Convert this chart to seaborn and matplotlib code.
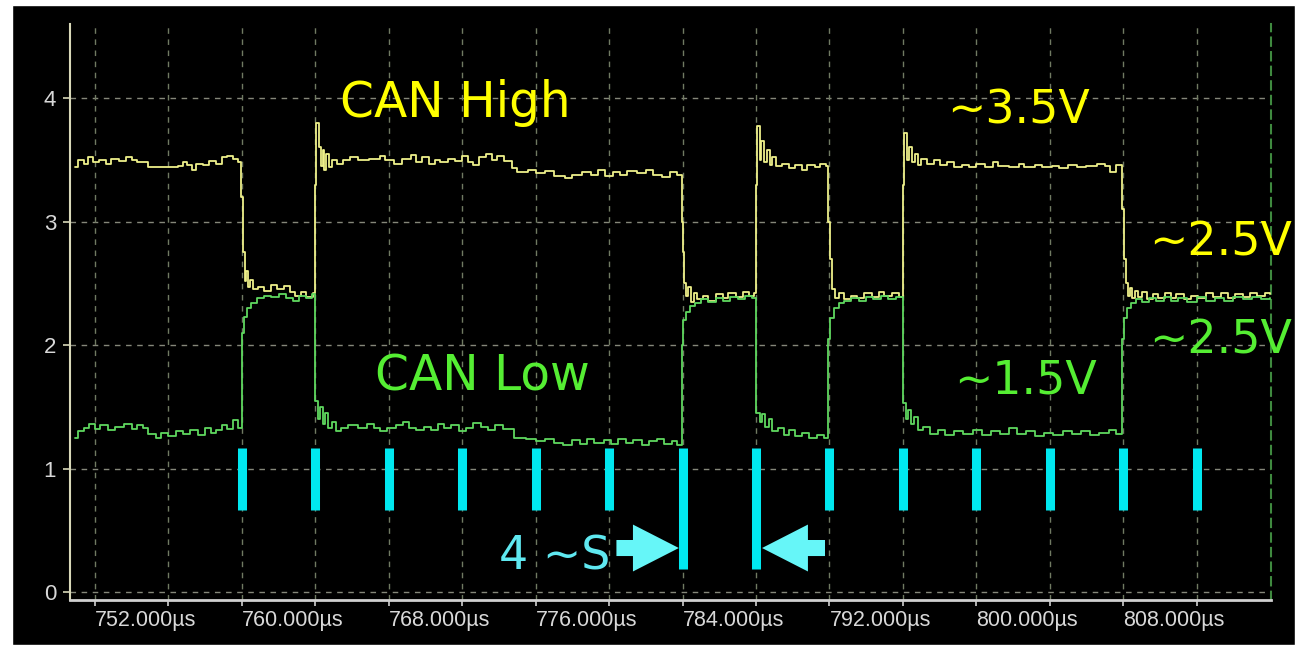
import matplotlib
matplotlib.use("Agg")
import matplotlib.pyplot as plt
from matplotlib.patches import Rectangle
import seaborn as sns

high_t = [750.9, 751.1, 751.4, 751.6, 751.9, 752.2, 752.6, 752.9, 753.3, 753.7, 754.0, 754.3, 754.9,
          756.5, 756.8, 757.0, 757.3, 757.5, 757.9, 758.2, 758.6, 758.9, 759.2, 759.5, 759.8,
          759.95, 760.05, 760.15, 760.25, 760.35, 760.45, 760.6, 760.9, 761.2, 761.6, 761.9, 762.3,
          762.6, 762.9, 763.2, 763.5, 763.9,
          764.0, 764.05, 764.2, 764.3, 764.4, 764.5, 764.6, 764.75, 764.9, 765.2, 765.5, 765.9, 766.3,
          766.9, 767.5, 767.8, 768.3, 768.7, 769.2, 769.5, 769.8, 770.2, 770.5, 770.8, 771.2, 771.6,
          772.0, 772.3, 772.6, 772.9, 773.3, 773.6, 773.9, 774.3, 774.7, 775.0, 775.6, 776.0, 776.5,
          777.0, 777.6, 778.0, 778.5, 779.0, 779.4, 779.8, 780.2, 780.6, 781.0, 781.5, 782.0, 782.4,
          782.9, 783.3, 783.7,
          783.95, 784.0, 784.1, 784.2, 784.3, 784.45, 784.6, 784.8, 785.1, 785.4, 785.8, 786.2, 786.5,
          786.9, 787.3, 787.6, 787.9,
          788.0, 788.05, 788.2, 788.3, 788.45, 788.6, 788.75, 788.9, 789.1, 789.4, 789.8, 790.1, 790.5,
          790.8, 791.2, 791.5, 791.8,
          791.95, 792.05, 792.15, 792.3, 792.5, 792.8, 793.2, 793.5, 793.9, 794.3, 794.7, 795.0, 795.4,
          795.8,
          796.0, 796.05, 796.2, 796.35, 796.5, 796.65, 796.8, 797.0, 797.3, 797.7, 798.0, 798.4, 798.8,
          799.2, 799.6, 800.0, 800.5, 800.9, 801.2, 801.8, 802.3, 802.6, 803.2, 803.6, 804.1, 804.5,
          805.0, 805.5, 806.0, 806.6, 807.0, 807.3, 807.6,
          807.95, 808.05, 808.15, 808.25, 808.35, 808.5, 808.65, 808.8, 809.0, 809.3, 809.6, 809.9,
          810.3, 810.6, 810.9, 811.3, 811.7, 812.1, 812.5, 812.9, 813.3, 813.7, 814.1, 814.5, 814.9,
          815.3, 815.7, 816.0]
high_v = [3.44, 3.50, 3.47, 3.52, 3.48, 3.50, 3.47, 3.51, 3.49, 3.52, 3.50, 3.48, 3.44,
          3.45, 3.48, 3.46, 3.42, 3.47, 3.46, 3.49, 3.47, 3.52, 3.53, 3.51, 3.48,
          3.20, 2.75, 2.52, 2.60, 2.47, 2.53, 2.45, 2.47, 2.44, 2.49, 2.45, 2.48,
          2.43, 2.40, 2.43, 2.39, 2.42,
          3.30, 3.80, 3.60, 3.45, 3.58, 3.42, 3.55, 3.44, 3.50, 3.47, 3.50, 3.52, 3.50,
          3.51, 3.53, 3.50, 3.47, 3.51, 3.54, 3.48, 3.52, 3.47, 3.50, 3.48, 3.51, 3.49,
          3.53, 3.48, 3.46, 3.52, 3.55, 3.50, 3.53, 3.49, 3.43, 3.40, 3.42, 3.39, 3.41,
          3.37, 3.35, 3.38, 3.40, 3.38, 3.42, 3.37, 3.40, 3.38, 3.41, 3.39, 3.42, 3.38,
          3.36, 3.40, 3.38,
          3.00, 2.75, 2.50, 2.40, 2.47, 2.35, 2.42, 2.37, 2.40, 2.36, 2.41, 2.38, 2.42,
          2.39, 2.43, 2.40, 2.42,
          3.30, 3.77, 3.50, 3.65, 3.48, 3.58, 3.46, 3.52, 3.45, 3.47, 3.43, 3.46, 3.42,
          3.46, 3.44, 3.47, 3.45,
          3.00, 2.70, 2.45, 2.38, 2.42, 2.37, 2.40, 2.38, 2.42, 2.39, 2.43, 2.40, 2.42,
          2.39,
          3.30, 3.72, 3.50, 3.60, 3.48, 3.55, 3.46, 3.51, 3.47, 3.50, 3.46, 3.48, 3.44,
          3.46, 3.44, 3.47, 3.44, 3.48, 3.45, 3.44, 3.47, 3.44, 3.46, 3.44, 3.45, 3.43,
          3.46, 3.44, 3.45, 3.47, 3.45, 3.40, 3.46,
          3.10, 2.70, 2.50, 2.40, 2.46, 2.38, 2.44, 2.39, 2.43, 2.37, 2.41, 2.38,
          2.42, 2.38, 2.41, 2.37, 2.40, 2.38, 2.42, 2.39, 2.42, 2.38, 2.41, 2.39, 2.42,
          2.40, 2.42, 2.41]

# CAN Low trace
low_t = [750.9, 751.1, 751.4, 751.7, 752.0, 752.3, 752.7, 753.1, 753.6, 754.0, 754.3, 754.6, 754.9,
         755.3, 755.6, 756.0, 756.4, 756.8, 757.2, 757.6, 758.0, 758.3, 758.6, 758.9, 759.2, 759.5,
         759.8,
         760.0, 760.1, 760.3, 760.5, 760.8, 761.2, 761.6, 762.0, 762.4, 762.8, 763.1, 763.5, 763.8,
         764.0, 764.15, 764.25, 764.4, 764.55, 764.7, 764.9, 765.1, 765.4, 765.8, 766.3, 766.8, 767.2,
         767.5, 767.9, 768.4, 768.8, 769.1, 769.5, 769.9, 770.3, 770.7, 771.0, 771.4, 771.8, 772.2,
         772.6, 773.0, 773.4, 773.8, 774.2, 774.8, 775.5, 776.0, 776.5, 777.0, 777.5, 778.0, 778.4,
         778.8, 779.2, 779.7, 780.1, 780.5, 780.9, 781.3, 781.8, 782.2, 782.6, 783.0, 783.4, 783.7,
         783.95, 784.05, 784.2, 784.4, 784.7, 785.0, 785.4, 785.8, 786.2, 786.6, 787.0, 787.4, 787.8,
         788.0, 788.2, 788.35, 788.5, 788.7, 788.9, 789.2, 789.5, 789.8, 790.1, 790.5, 790.9, 791.3,
         791.7,
         791.95, 792.05, 792.25, 792.5, 792.8, 793.2, 793.6, 794.0, 794.4, 794.8, 795.2, 795.6,
         796.0, 796.15, 796.3, 796.45, 796.6, 796.8, 797.1, 797.5, 797.9, 798.3, 798.8, 799.3, 799.8,
         800.3, 800.8, 801.3, 801.8, 802.2, 802.7, 803.2, 803.7, 804.2, 804.7, 805.2, 805.7, 806.2,
         806.7, 807.2, 807.6,
         807.95, 808.05, 808.2, 808.4, 808.7, 809.0, 809.4, 809.8, 810.2, 810.6, 811.0, 811.5, 812.0,
         812.5, 813.0, 813.5, 814.0, 814.5, 815.0, 815.5, 816.0]
low_v = [1.25, 1.30, 1.33, 1.36, 1.32, 1.35, 1.31, 1.34, 1.36, 1.32, 1.35, 1.33, 1.28,
         1.25, 1.29, 1.26, 1.30, 1.28, 1.31, 1.27, 1.33, 1.29, 1.31, 1.35, 1.32, 1.39,
         1.33,
         2.10, 2.23, 2.30, 2.34, 2.38, 2.40, 2.39, 2.41, 2.38, 2.36, 2.40, 2.38, 2.41,
         1.55, 1.40, 1.50, 1.36, 1.45, 1.33, 1.38, 1.30, 1.33, 1.35, 1.33, 1.36, 1.33,
         1.30, 1.33, 1.35, 1.38, 1.33, 1.31, 1.34, 1.31, 1.36, 1.33, 1.35, 1.30, 1.33,
         1.37, 1.34, 1.31, 1.35, 1.32, 1.25, 1.24, 1.22, 1.24, 1.21, 1.19, 1.23, 1.20,
         1.24, 1.21, 1.23, 1.20, 1.24, 1.21, 1.23, 1.19, 1.22, 1.24, 1.20, 1.22, 1.19,
         2.00, 2.20, 2.27, 2.32, 2.34, 2.37, 2.35, 2.38, 2.36, 2.39, 2.37, 2.40, 2.38,
         1.45, 1.38, 1.44, 1.34, 1.40, 1.30, 1.33, 1.27, 1.31, 1.26, 1.29, 1.25, 1.27,
         1.25,
         2.05, 2.22, 2.30, 2.34, 2.36, 2.38, 2.36, 2.39, 2.37, 2.40, 2.37, 2.39,
         1.53, 1.40, 1.47, 1.36, 1.42, 1.31, 1.34, 1.28, 1.31, 1.27, 1.30, 1.28, 1.31,
         1.27, 1.30, 1.28, 1.33, 1.28, 1.30, 1.26, 1.29, 1.27, 1.30, 1.28, 1.30, 1.27,
         1.29, 1.31, 1.28,
         2.05, 2.22, 2.30, 2.34, 2.37, 2.35, 2.38, 2.36, 2.39, 2.36, 2.38, 2.35, 2.39,
         2.36, 2.38, 2.36, 2.39, 2.37, 2.39, 2.37, 2.38]

# bit boundary markers
bit_times = [760, 764, 768, 772, 776, 780, 784, 788, 792, 796, 800, 804, 808, 812]
bit_bottom = [0.66, 0.66, 0.66, 0.66, 0.66, 0.66, 0.19, 0.19, 0.66, 0.66, 0.66, 0.66, 0.66, 0.66]
bit_top = [1.17] * len(bit_times)

major_ticks = [752, 760, 768, 776, 784, 792, 800, 808]
minor_ticks = [756, 764, 772, 780, 788, 796, 804, 812]
y_ticks = [0, 1, 2, 3, 4]

sns.set_theme(style="dark", rc={"axes.facecolor": "black"})
plt.rcParams['font.family'] = ['DejaVu Sans']

W, H = 1298, 645
fig = plt.figure(figsize=(W / 100, H / 100), dpi=100)
fig.patch.set_facecolor('white')
# black scope panel behind the axes
fig.patches.append(Rectangle((12 / W, 0), (1295 - 12) / W, (H - 5) / H,
                             transform=fig.transFigure, facecolor='black', zorder=-10))

ax = fig.add_axes([70 / W, 45 / H, 1201 / W, 576 / H])
ax.set_zorder(1)
ax.set_facecolor('black')
ax.set_xlim(750.64, 816.05)
ax.set_ylim(-0.065, 4.60)

# grid
for y in y_ticks:
    ax.axhline(y, color='#85877a', lw=1, ls=(0, (4, 4)), zorder=1)
for x in major_ticks + minor_ticks:
    ax.axvline(x, color='#707a62', lw=1, ls=(0, (4, 4)), zorder=1)

# traces
sns.lineplot(x=high_t, y=high_v, ax=ax, color='#eef08a', lw=1.3, drawstyle='steps-post',
             estimator=None, sort=False, zorder=3)
sns.lineplot(x=low_t, y=low_v, ax=ax, color='#5fd85f', lw=1.3, drawstyle='steps-post',
             estimator=None, sort=False, zorder=3)

# bit markers
ax.vlines(bit_times, bit_bottom, bit_top, color='#00e8f0', lw=6.5, zorder=4)

# bit width arrows
arrow_col = '#66f6f8'
ax.arrow(780.4, 0.356, 3.4, 0, width=0.13, head_width=0.38, head_length=2.5,
         length_includes_head=True, color=arrow_col, lw=0, zorder=5)
ax.arrow(791.76, 0.356, -3.43, 0, width=0.13, head_width=0.38, head_length=2.5,
         length_includes_head=True, color=arrow_col, lw=0, zorder=5)

# annotations
fs = 33
yellow, green = '#ffff00', '#55ee33'
ax.text(771.6, 3.846, 'CAN High', color=yellow, fontsize=35, ha='center', va='baseline')
ax.text(773.1, 1.628, 'CAN Low', color=green, fontsize=35, ha='center', va='baseline')
ax.text(806.19, 3.798, '~3.5V', color=yellow, fontsize=fs, ha='right', va='baseline')
ax.text(806.58, 1.611, '~1.5V', color=green, fontsize=fs, ha='right', va='baseline')
ax.text(817.2, 2.729, '~2.5V', color=yellow, fontsize=fs, ha='right', va='baseline', clip_on=False)
ax.text(817.2, 1.935, '~2.5V', color=green, fontsize=fs, ha='right', va='baseline', clip_on=False)
ax.text(774.0, 0.186, '4 ~S', color='#5fe8f0', fontsize=fs, ha='left', va='baseline')

# axes styling
ax.spines['top'].set_visible(False)
ax.spines['left'].set_color('#d8d8b8')
ax.spines['left'].set_linewidth(1.5)
ax.spines['bottom'].set_color('#d0d0d0')
ax.spines['bottom'].set_linewidth(2)
ax.spines['right'].set_color('#3f8a3f')
ax.spines['right'].set_linestyle((0, (4, 3)))
ax.spines['right'].set_linewidth(1.5)

ax.set_xticks(major_ticks)
ax.set_xticks(minor_ticks, minor=True)
ax.set_xticklabels([f'{t}.000\u00b5s' for t in major_ticks], ha='left')
ax.set_yticks(y_ticks)
ax.set_yticklabels([str(v) for v in y_ticks])
ax.tick_params(axis='x', which='both', direction='out', length=4, width=1.2,
               color='#d0d0d0', labelcolor='#d8d8d8', labelsize=15.5, pad=3, bottom=True)
ax.tick_params(axis='y', direction='out', length=5, width=1.2, color='#d8d8b8',
               labelcolor='#d8d8d8', labelsize=16, pad=5, left=True)
for lab in ax.get_xticklabels() + ax.get_yticklabels():
    lab.set_family('Liberation Sans')
ax.set_xlabel('')
ax.set_ylabel('')
ax.grid(False)

fig.savefig('out.png', dpi=100, facecolor=fig.get_facecolor())
